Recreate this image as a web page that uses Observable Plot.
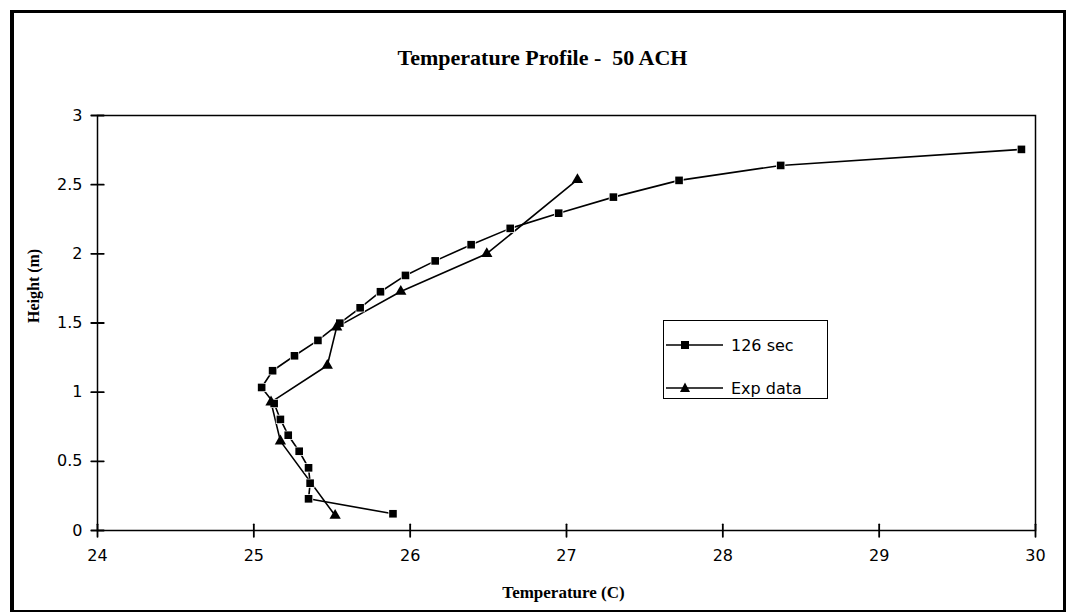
<!DOCTYPE html>
<html><head><meta charset="utf-8">
<script src="https://cdn.jsdelivr.net/npm/d3@7"></script>
<script src="https://cdn.jsdelivr.net/npm/@observablehq/plot@0.6"></script>
<style>
body{margin:0;background:#fff;}
#wrap{position:relative;width:1073px;height:614px;overflow:hidden;}
#border{position:absolute;left:10px;top:10px;width:1049px;height:597px;border-left:4px solid #000;border-top:3px solid #000;border-right:3px solid #000;border-bottom:2px solid #000;pointer-events:none;}
#chart{position:absolute;left:0;top:0;}
#legend{position:absolute;left:663px;top:320px;width:163px;height:77px;border:1.5px solid #000;background:#fff;font:16px "DejaVu Sans";}
.row{position:absolute;left:0;height:20px;display:flex;align-items:center;}
.row span{margin-left:7px;}
</style></head>
<body>
<div id="wrap">
<div id="chart"></div>
<div id="legend"></div>
<div id="border"></div>
</div>
<script>
// 126 sec simulation (squares)
const simTemp = [25.89, 25.35, 25.36, 25.35, 25.29, 25.22, 25.17, 25.13, 25.05, 25.12, 25.26, 25.41, 25.55, 25.68, 25.81, 25.97, 26.16, 26.39, 26.64, 26.95, 27.30, 27.72, 28.37, 29.91];
const simHeight = [0.121, 0.229, 0.342, 0.453, 0.573, 0.689, 0.803, 0.918, 1.034, 1.155, 1.263, 1.374, 1.499, 1.610, 1.726, 1.844, 1.949, 2.066, 2.184, 2.294, 2.410, 2.531, 2.639, 2.755];
// Exp data (triangles)
const expTemp = [25.52, 25.17, 25.11, 25.47, 25.53, 25.94, 26.49, 27.07];
const expHeight = [0.108, 0.646, 0.928, 1.193, 1.470, 1.728, 2.001, 2.536];
const xTicks = [24, 25, 26, 27, 28, 29, 30];
const yTicks = [0, 0.5, 1, 1.5, 2, 2.5, 3];
const seriesNames = ["126 sec", "Exp data"];
const titleText = "Temperature Profile -  50 ACH";
const xLabel = "Temperature (C)";
const yLabel = "Height (m)";

const sim = simTemp.map((t, i) => ({t, h: simHeight[i]}));
const exp = expTemp.map((t, i) => ({t, h: expHeight[i]}));

// cross-tick segments built from the tick arrays (half-length in data units)
const xTickSegs = xTicks.flatMap(v => [{k: v, x: v, y: -0.045}, {k: v, x: v, y: 0.045}]);
const yTickSegs = yTicks.flatMap(v => [{k: v, x: 23.96, y: v}, {k: v, x: 24.04, y: v}]);

const serif = "'Liberation Serif', 'Times New Roman', serif";
const sans = "'DejaVu Sans', sans-serif";

const chart = Plot.plot({
  width: 1073, height: 614,
  marginLeft: 97, marginRight: 38, marginTop: 115, marginBottom: 84,
  style: {fontFamily: sans, fontSize: "16px", color: "#000", background: "transparent", overflow: "visible"},
  x: {domain: [24, 30]},
  y: {domain: [0, 3]},
  marks: [
    Plot.frame({stroke: "#000", strokeWidth: 1.5}),
    Plot.line(xTickSegs, {x: "x", y: "y", z: "k", stroke: "#000", strokeWidth: 1.8}),
    Plot.line(yTickSegs, {x: "x", y: "y", z: "k", stroke: "#000", strokeWidth: 1.8}),
    Plot.axisX({ticks: xTicks, tickSize: 0, tickPadding: 19, tickFormat: d => String(d), label: null, fontSize: 16}),
    Plot.axisY({ticks: yTicks, tickSize: 0, tickPadding: 15, tickFormat: d => String(d), label: null, fontSize: 16}),
    Plot.line(sim, {x: "t", y: "h", stroke: "#000", strokeWidth: 1.6}),
    Plot.line(exp, {x: "t", y: "h", stroke: "#000", strokeWidth: 1.6}),
    Plot.dot(sim, {x: "t", y: "h", symbol: "square", r: 4.3, fill: "#000", stroke: "#fff", strokeWidth: 1.5, paintOrder: "stroke"}),
    Plot.dot(exp, {x: "t", y: "h", symbol: "triangle", r: 4.2, fill: "#000", stroke: "none"}),
    Plot.text([titleText], {text: d => d, frameAnchor: "top", lineAnchor: "middle", dx: -24, dy: -58, fontFamily: serif, fontWeight: "bold", fontSize: 22}),
    Plot.text([xLabel], {text: d => d, frameAnchor: "bottom", lineAnchor: "middle", dx: -3, dy: 62, fontFamily: serif, fontWeight: "bold", fontSize: 17}),
    Plot.text([yLabel], {text: d => d, frameAnchor: "left", lineAnchor: "middle", dx: -64, dy: 0, rotate: -90, fontFamily: serif, fontWeight: "bold", fontSize: 16})
  ]
});
document.getElementById("chart").appendChild(chart);

// legend
const legend = document.getElementById("legend");
const rowsY = [14, 57];
seriesNames.forEach((name, i) => {
  const row = document.createElement("div");
  row.className = "row";
  row.style.top = rowsY[i] + "px";
  const sym = i === 0
    ? '<rect x="17" y="6" width="8" height="8" fill="#000"/>'
    : '<path d="M21,4.5 L26,14 L16,14 Z" fill="#000"/>';
  row.innerHTML = '<svg width="60" height="20"><line x1="2" x2="59" y1="10" y2="10" stroke="#000" stroke-width="1.5"/>' + sym + '</svg><span>' + name + '</span>';
  legend.appendChild(row);
});
</script>
</body></html>
